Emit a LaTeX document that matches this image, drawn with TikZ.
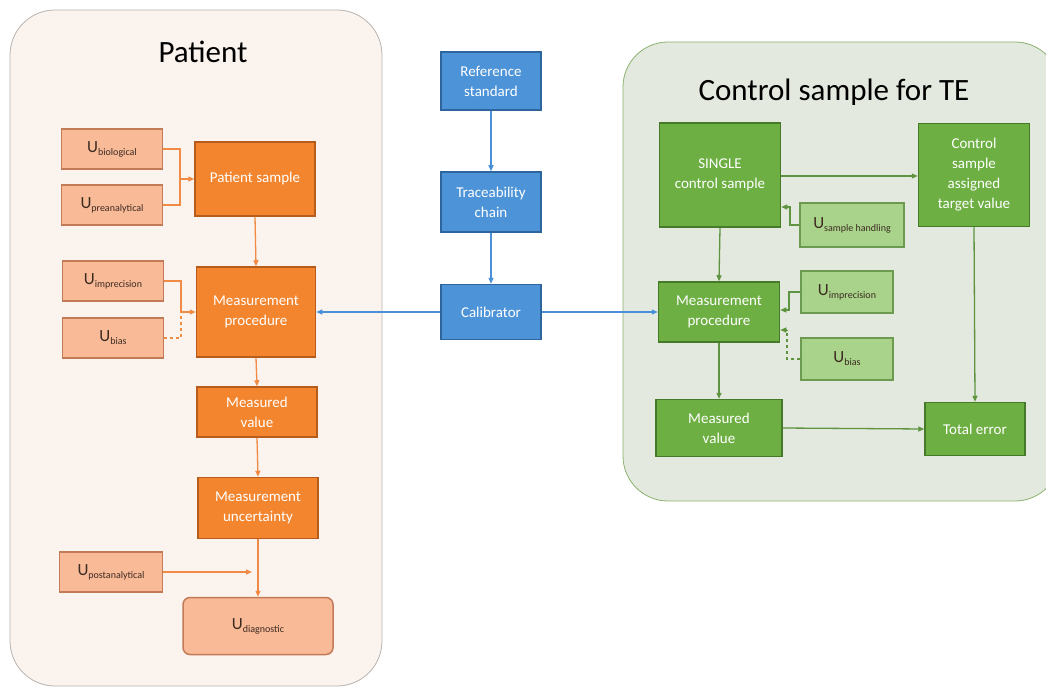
\documentclass[tikz,border=0pt]{standalone}
\usepackage{fontspec}
\setmainfont{Carlito}
\usetikzlibrary{arrows.meta}
\definecolor{panelP}{HTML}{FBF3EE}
\definecolor{panelPb}{HTML}{B8B2AE}
\definecolor{panelC}{HTML}{E3E9DE}
\definecolor{panelCb}{HTML}{8CB270}
\definecolor{ofill}{HTML}{F3852F}
\definecolor{odraw}{HTML}{B65C1C}
\definecolor{pfill}{HTML}{F9BA98}
\definecolor{pdraw}{HTML}{C27B56}
\definecolor{bfill}{HTML}{4D93D7}
\definecolor{bdraw}{HTML}{2D659C}
\definecolor{gfill}{HTML}{6DAF43}
\definecolor{gdraw}{HTML}{457A28}
\definecolor{lgfill}{HTML}{A9D38B}
\definecolor{lgdraw}{HTML}{6C9A4F}
\definecolor{oline}{HTML}{F08A45}
\definecolor{bline}{HTML}{4A90D9}
\definecolor{gline}{HTML}{5E9440}
\definecolor{utext}{HTML}{3B2A20}
\tikzset{
  box/.style={rectangle, inner sep=2pt, align=center, text=white, font=\fontsize{15}{20}\selectfont, line width=1.5pt},
  obox/.style={box, fill=ofill, draw=odraw},
  bbox/.style={box, fill=bfill, draw=bdraw},
  gbox/.style={box, fill=gfill, draw=gdraw},
  pbox/.style={box, fill=pfill, draw=pdraw, text=utext},
  lgbox/.style={box, fill=lgfill, draw=lgdraw, text=utext},
  tip/.style={-{Triangle[length=6pt,width=5pt]}},
  oconn/.style={draw=oline, line width=1.3pt},
  bconn/.style={draw=bline, line width=1.3pt},
  gconn/.style={draw=gline, line width=1.3pt},
}
\newcommand{\Ulab}[1]{{\fontsize{17}{18}\selectfont U}{\fontsize{10}{11}\selectfont\raisebox{-3pt}{#1}}}
\begin{document}
\begin{tikzpicture}[x=1pt,y=-1pt]
\useasboundingbox (0,0) rectangle (1046,687);
% panels
\draw[fill=panelP, draw=panelPb, line width=0.8pt, rounded corners=45pt] (10,10) rectangle (382,686);
\draw[fill=panelC, draw=panelCb, line width=0.8pt, rounded corners=45pt] (623,42) rectangle (1060,501);
\node[font=\fontsize{31}{34}\selectfont, text=black] (tp) at (203,52) {Patient};
\node[font=\fontsize{31}{34}\selectfont, text=black] (tc) at (834,92) {Control sample for TE};
% left nodes
\node[pbox, minimum width=101pt, minimum height=40pt] (ubio) at (112,149) {\Ulab{biological}};
\node[pbox, minimum width=101pt, minimum height=40pt] (upre) at (112,205) {\Ulab{preanalytical}};
\node[obox, minimum width=120pt, minimum height=74pt] (ps) at (255,179) {Patient sample};
\node[pbox, minimum width=101pt, minimum height=40pt] (uimp) at (113,281) {\Ulab{imprecision}};
\node[pbox, minimum width=101pt, minimum height=40pt] (ubias) at (113,338) {\Ulab{bias}};
\node[obox, minimum width=119pt, minimum height=90pt] (mp) at (256,312) {Measurement\\procedure};
\node[obox, minimum width=120pt, minimum height=50pt] (mv) at (257,412) {Measured\\value};
\node[obox, minimum width=120pt, minimum height=61pt] (mu) at (258,508) {Measurement\\uncertainty};
\node[pbox, minimum width=103pt, minimum height=40pt] (upost) at (111,572) {\Ulab{postanalytical}};
\node[pbox, rounded corners=7pt, minimum width=150pt, minimum height=57pt] (udiag) at (258,626) {\Ulab{diagnostic}};
% center nodes
\node[bbox, minimum width=100pt, minimum height=58pt] (ref) at (491,81) {Reference\\standard};
\node[bbox, minimum width=100pt, minimum height=60pt] (trace) at (491,202) {Traceability\\chain};
\node[bbox, minimum width=100pt, minimum height=55pt] (cal) at (491,312) {Calibrator};
% right nodes
\node[gbox, minimum width=121pt, minimum height=104pt] (single) at (720,175) {SINGLE\\control sample};
\node[gbox, minimum width=111pt, minimum height=103pt] (csatv) at (974,175) {Control\\sample\\assigned\\target value};
\node[lgbox, minimum width=104pt, minimum height=44pt] (ush) at (852,225) {\Ulab{sample handling}};
\node[gbox, minimum width=121pt, minimum height=60pt] (cmp) at (719,312) {Measurement\\procedure};
\node[lgbox, minimum width=92pt, minimum height=42pt] (cuimp) at (847,292) {\Ulab{imprecision}};
\node[lgbox, minimum width=92pt, minimum height=42pt] (cubias) at (847,359) {\Ulab{bias}};
\node[gbox, minimum width=126pt, minimum height=57pt] (cmv) at (719,428) {Measured\\value};
\node[gbox, minimum width=100pt, minimum height=53pt] (te) at (975,429) {Total error};
% left connectors
\coordinate (j1) at (180,179);
\draw[oconn] (ubio.east) -| (j1);
\draw[oconn] (upre.east) -| (j1);
\draw[oconn, tip] (j1) -- (ps.west);
\draw[oconn, tip] (ps.south) -- (mp.north);
\coordinate (j2) at (181,312);
\draw[oconn] (uimp.east) -| (j2);
\draw[oconn, dashed] (ubias.east) -| (j2);
\draw[oconn, tip] (j2) -- (mp.west);
\draw[oconn, tip] (mp.south) -- (mv.north);
\draw[oconn, tip] (mv.south) -- (mu.north);
\draw[oconn, tip] (mu.south) -- (udiag.north);
\coordinate (j3) at (252,572);
\draw[oconn, tip] (upost.east) -- (j3);
% center connectors
\draw[bconn, tip] (ref.south) -- (trace.north);
\draw[bconn, tip] (trace.south) -- (cal.north);
\draw[bconn, tip] (cal.west) -- (mp.east);
\draw[bconn, tip] (cal.east) -- (cmp.west);
% right connectors
\draw[gconn, tip] (single.east |- 0,176) -- (csatv.west |- 0,176);
\coordinate (k1) at (790,207);
\draw[gconn, tip] (ush.west) -| (k1) -- (k1 -| single.east);
\draw[gconn, tip] (single.south) -- (cmp.north);
\coordinate (k2) at (789,310);
\draw[gconn, tip] (cuimp.west) -| (k2) -- (k2 -| cmp.east);
\coordinate (k3) at (787,330);
\draw[gconn, dashed] (cubias.west) -| (k3);
\draw[gconn, tip] (k3) -- (k3 -| cmp.east);
\draw[gconn, tip] (cmp.south) -- (cmv.north);
\draw[gconn, tip] (csatv.south) -- (te.north);
\draw[gconn, tip] (cmv.east) -- (te.west);
\end{tikzpicture}
\end{document}
